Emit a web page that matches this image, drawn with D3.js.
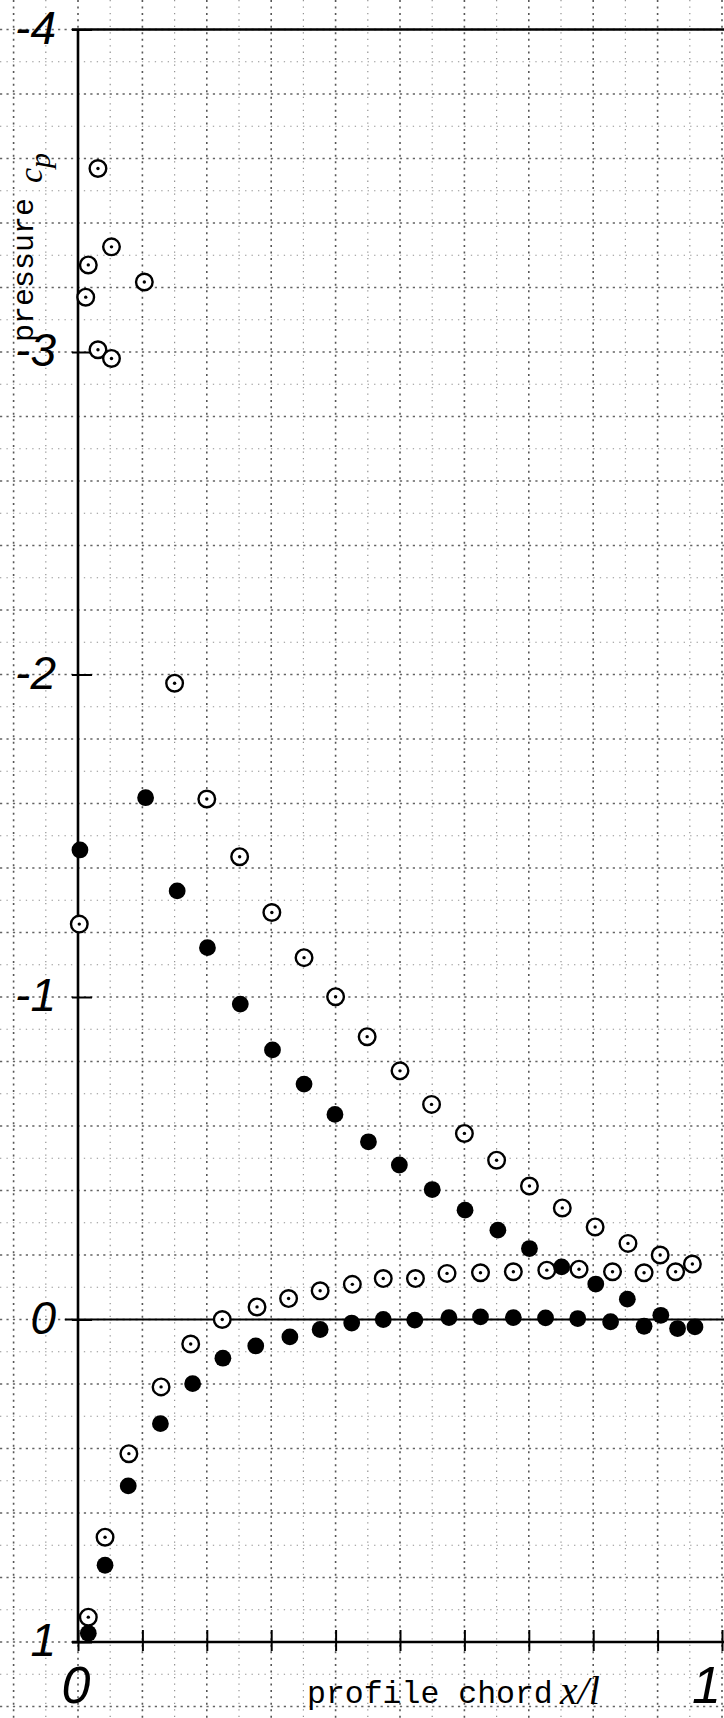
<!DOCTYPE html>
<html><head><meta charset="utf-8">
<script src="https://cdn.jsdelivr.net/npm/d3@7"></script>
<style>html,body{margin:0;padding:0;background:#fff;} svg{display:block;}</style>
</head><body>
<svg id="c" width="724" height="1718"></svg>
<script>
// ---------- data ----------
const xTickValues = [0, 0.1, 0.2, 0.3, 0.4, 0.5, 0.6, 0.7, 0.8, 0.9, 1.0];
const xLabelValues = [0, 1];
const xLabelTexts = ["0", "1"];
const yTickValues = [-4, -3, -2, -1, 0, 1];
const yTickLabels = ["-4", "-3", "-2", "-1", "0", "1"];

// open circles, suction side (upper)
const openUpperX  = [0.002, 0.012, 0.016, 0.031, 0.031, 0.052, 0.052, 0.103,
                     0.150, 0.200, 0.251, 0.301, 0.351, 0.400, 0.449, 0.500, 0.549,
                     0.600, 0.650, 0.701, 0.752, 0.803, 0.854, 0.904, 0.954];
const openUpperCp = [-1.226, -3.170, -3.270, -3.569, -3.007, -3.326, -2.980, -3.217,
                     -1.973, -1.614, -1.435, -1.262, -1.122, -1.001, -0.877, -0.771, -0.667,
                     -0.577, -0.494, -0.414, -0.346, -0.287, -0.236, -0.200, -0.172];
// open circles, pressure side (lower)
const openLowerX  = [0.016, 0.042, 0.079, 0.129, 0.175, 0.224, 0.278, 0.327, 0.376, 0.426,
                     0.474, 0.524, 0.573, 0.625, 0.676, 0.728, 0.778, 0.830, 0.879, 0.928];
const openLowerCp = [0.923, 0.675, 0.416, 0.209, 0.076, 0.000, -0.039, -0.065, -0.089, -0.109,
                     -0.127, -0.127, -0.143, -0.145, -0.148, -0.153, -0.156, -0.148, -0.145, -0.148];
// filled circles, suction side (upper)
const filledUpperX  = [0.003, 0.105, 0.154, 0.201, 0.252, 0.302, 0.351, 0.399, 0.451,
                       0.499, 0.550, 0.601, 0.652, 0.701, 0.751, 0.804, 0.853, 0.905];
const filledUpperCp = [-1.456, -1.618, -1.329, -1.153, -0.978, -0.836, -0.730, -0.636, -0.551,
                       -0.479, -0.403, -0.339, -0.277, -0.220, -0.163, -0.110, -0.063, -0.013];
// filled circles, pressure side (lower)
const filledLowerX  = [0.016, 0.042, 0.078, 0.128, 0.178, 0.225, 0.276, 0.329, 0.376, 0.425,
                       0.474, 0.523, 0.576, 0.625, 0.676, 0.726, 0.776, 0.827, 0.879, 0.931, 0.958];
const filledLowerCp = [0.973, 0.762, 0.516, 0.323, 0.199, 0.120, 0.082, 0.054, 0.031, 0.011,
                       0.000, 0.002, -0.006, -0.008, -0.006, -0.005, -0.003, 0.007, 0.021, 0.028, 0.023];

// ---------- drawing ----------
const W = 724, H = 1718;
const svg = d3.select("#c");
svg.append("rect").attr("width", W).attr("height", H).attr("fill", "#fff");

const x = d3.scaleLinear().domain([0, 1]).range([78, 722]);
const y = d3.scaleLinear().domain([-4, 1]).range([29.5, 1642]);

// graph-paper grid (dotted, covers the whole sheet)
const grid = svg.append("g");
const xa = x.invert(0), xb = x.invert(W);
for (let k = Math.ceil(xa * 20); k <= Math.floor(xb * 20); k++) {
  const v = k / 20, major = (k % 2 === 0);
  grid.append("line")
    .attr("x1", x(v)).attr("x2", x(v)).attr("y1", 0).attr("y2", H)
    .attr("stroke", "#111")
    .attr("stroke-width", major ? 1.6 : 1.2)
    .attr("stroke-dasharray", major ? "2,4.45" : "1.3,5.15")
    .attr("opacity", major ? 0.7 : 0.45);
}
const ya = y.invert(0), yb = y.invert(H);
for (let k = Math.ceil(ya * 10); k <= Math.floor(yb * 10); k++) {
  const v = k / 10, major = (k % 2 === 0);
  grid.append("line")
    .attr("x1", 0).attr("x2", W).attr("y1", y(v)).attr("y2", y(v))
    .attr("stroke", "#111")
    .attr("stroke-width", major ? 1.6 : 1.2)
    .attr("stroke-dasharray", major ? "2.2,4.25" : "1.3,5.15")
    .attr("opacity", major ? 0.65 : 0.45);
}

// axes frame lines
const frame = svg.append("g").attr("stroke", "#000").attr("fill", "none");
frame.append("line").attr("x1", x(0)).attr("x2", x(0)).attr("y1", y(-4)).attr("y2", y(1)).attr("stroke-width", 2.6);
frame.append("line").attr("x1", x(0) - 6).attr("x2", W).attr("y1", y(-4)).attr("y2", y(-4)).attr("stroke-width", 2.6);
frame.append("line").attr("x1", x(0) - 13).attr("x2", W).attr("y1", y(0)).attr("y2", y(0)).attr("stroke-width", 2.2);
frame.append("line").attr("x1", x(0) - 6).attr("x2", W).attr("y1", y(1)).attr("y2", y(1)).attr("stroke-width", 2.6);

// bottom axis ticks
const xAxis = svg.append("g")
  .attr("transform", `translate(0,${y(1)})`)
  .call(d3.axisBottom(x).tickValues(xTickValues).tickSize(8).tickSizeOuter(0).tickFormat(""));
xAxis.select(".domain").remove();
xAxis.selectAll(".tick line").attr("y1", -12).attr("y2", 9).attr("stroke", "#000").attr("stroke-width", 2);

// left axis ticks + handwritten-style labels
const yAxis = svg.append("g")
  .attr("transform", `translate(${x(0)},0)`)
  .call(d3.axisLeft(y).tickValues(yTickValues).tickSize(6).tickSizeOuter(0)
        .tickFormat((d, i) => yTickLabels[i]));
yAxis.select(".domain").remove();
yAxis.selectAll(".tick line").attr("x1", 14).attr("x2", -6).attr("stroke", "#000").attr("stroke-width", 2);
yAxis.selectAll(".tick text")
  .attr("x", -22).attr("dy", "0.3em")
  .attr("fill", "#000")
  .style("font-family", "'Liberation Sans', 'DejaVu Sans', sans-serif")
  .style("font-style", "italic")
  .style("font-size", "46px");

// x labels 0 and 1 (the "1" kept inside the sheet)
svg.append("g").selectAll("text").data(xLabelValues).join("text")
  .attr("x", d => d === 1 ? W - 3 : x(d) - 2).attr("y", 1703)
  .attr("text-anchor", d => d === 1 ? "end" : "middle")
  .style("font-family", "'Liberation Sans', 'DejaVu Sans', sans-serif")
  .style("font-style", "italic").style("font-size", "52px")
  .text((d, i) => xLabelTexts[i]);

// axis titles
svg.append("text").attr("x", 307).attr("y", 1703)
  .style("font-family", "'Liberation Mono', 'DejaVu Sans Mono', monospace")
  .style("font-size", "31.5px")
  .text("profile chord");
svg.append("text").attr("x", 560).attr("y", 1704)
  .style("font-family", "'Liberation Serif', 'DejaVu Serif', serif")
  .style("font-style", "italic").style("font-size", "40px")
  .text("x/l");

const yt = svg.append("g").attr("transform", "translate(33,270) rotate(-90)");
yt.append("text").attr("text-anchor", "middle")
  .style("font-family", "'Liberation Mono', 'DejaVu Sans Mono', monospace")
  .style("font-size", "30px")
  .text("pressure");
const cp = svg.append("g").attr("transform", "translate(42,183) rotate(-90)");
const cpt = cp.append("text").attr("text-anchor", "start")
  .style("font-family", "'Liberation Serif', 'DejaVu Serif', serif")
  .style("font-style", "italic").style("font-size", "34px");
cpt.append("tspan").text("c");
cpt.append("tspan").attr("dy", 8).style("font-size", "30px").text("p");

// markers
const marks = svg.append("g");
function openPts(X, C) {
  const g = marks.append("g");
  g.selectAll("circle.o").data(X).join("circle").attr("class", "o")
    .attr("cx", d => x(d)).attr("cy", (d, i) => y(C[i])).attr("r", 8.3)
    .attr("fill", "#fff").attr("stroke", "#000").attr("stroke-width", 2.4);
  g.selectAll("circle.c").data(X).join("circle").attr("class", "c")
    .attr("cx", d => x(d)).attr("cy", (d, i) => y(C[i])).attr("r", 1.7)
    .attr("fill", "#000");
}
function filledPts(X, C) {
  marks.append("g").selectAll("circle").data(X).join("circle")
    .attr("cx", d => x(d)).attr("cy", (d, i) => y(C[i])).attr("r", 8.4)
    .attr("fill", "#000");
}
openPts(openUpperX, openUpperCp);
openPts(openLowerX, openLowerCp);
filledPts(filledUpperX, filledUpperCp);
filledPts(filledLowerX, filledLowerCp);
</script>
</body></html>
